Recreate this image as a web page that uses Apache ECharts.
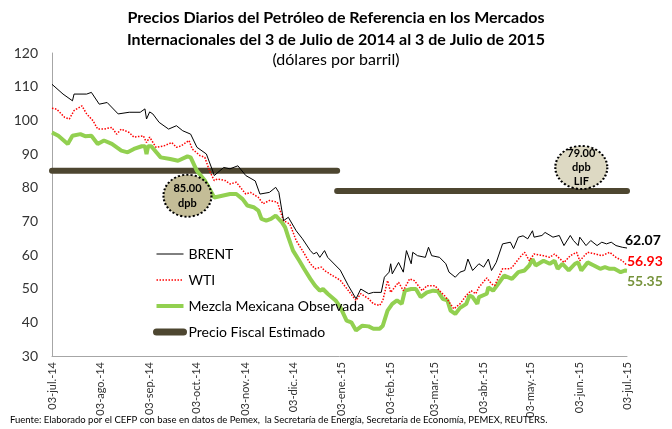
<!DOCTYPE html>
<html>
<head>
<meta charset="utf-8">
<script src="https://cdn.jsdelivr.net/npm/echarts@6/dist/echarts.min.js"></script>
<style>
  html, body { margin: 0; padding: 0; background: #fff; }
  #chart { width: 672px; height: 429px; }
</style>
</head>
<body>
<div id="chart"></div>
<script>
// dias transcurridos desde el 03-jul-14
var monthDays = [0, 31, 62, 92, 123, 153, 184, 215, 243, 274, 304, 335, 365];
var monthLabels = ["03-jul.-14", "03-ago.-14", "03-sep.-14", "03-oct.-14", "03-nov.-14", "03-dic.-14",
  "03-ene.-15", "03-feb.-15", "03-mar.-15", "03-abr.-15", "03-may.-15", "03-jun.-15", "03-jul.-15"];

var brentDays = [0, 7, 13, 14, 22, 25, 30, 35, 42, 49, 56, 59, 60, 62, 64, 68, 74, 79, 83, 88, 92, 98, 102, 103,
  109, 113, 118, 123, 129, 132, 138, 142, 144, 147, 150, 155, 159, 164, 166, 168, 170, 173, 175, 183, 188, 193,
  196, 201, 204, 209, 211, 214, 215, 216, 220, 223, 225, 228, 229, 232, 237, 239, 241, 246, 250, 252, 256, 259,
  262, 264, 267, 271, 274, 277, 279, 282, 286, 291, 293, 296, 299, 302, 305, 306, 311, 313, 318, 322, 325, 329,
  331, 334, 335, 339, 342, 346, 349, 352, 355, 358, 362, 365];
var brentValues = [110.7, 107.8, 105.8, 107.8, 107.8, 108.3, 104.8, 105.3, 101.9, 102.4, 102.4, 103.4, 100.4, 102.5,
  101.9, 99.4, 97.4, 98.4, 96.9, 95.9, 92, 90, 85, 83.6, 86, 85.6, 86.5, 83.6, 82, 78.1, 78.6, 80.1, 78.6, 70.2,
  71.2, 67.2, 64.8, 61.3, 60.3, 60.8, 59.3, 61.3, 59.3, 55.5, 51, 47, 49.9, 48.5, 48.9, 48.9, 53.4, 54.9, 57.4,
  54.4, 57.8, 54.9, 61.3, 57.4, 60.8, 59.8, 59.3, 62.3, 59.8, 59.3, 57.4, 54.9, 53.4, 54.9, 55.4, 58.8, 55.4,
  57.4, 56.4, 58.8, 55.4, 57.8, 63.3, 63.8, 61.9, 65.3, 65.7, 64.8, 67.2, 65.3, 65.8, 66.7, 65.3, 65.8, 62.8,
  65.8, 64.3, 62.8, 65.3, 62.8, 64.3, 62.8, 63.8, 63.3, 63.8, 62.8, 62.3, 62.07];

var wtiDays = [0, 3, 8, 11, 14, 19, 22, 26, 29, 33, 38, 41, 44, 49, 52, 58, 60, 62, 66, 71, 76, 79, 82, 85, 87, 89,
  94, 97, 100, 103, 105, 110, 113, 117, 123, 126, 131, 134, 138, 143, 147, 151, 155, 159, 164, 167, 171, 173,
  178, 183, 189, 193, 196, 201, 204, 208, 210, 213, 215, 220, 223, 227, 230, 235, 238, 243, 246, 250, 255, 259,
  263, 266, 269, 271, 276, 279, 281, 286, 291, 293, 297, 300, 303, 306, 312, 316, 319, 325, 329, 333, 335, 340,
  345, 349, 354, 358, 362, 365];
var wtiValues = [103.6, 103.3, 100.9, 100.4, 102.9, 104.3, 101.9, 99.9, 97.4, 97.4, 97.9, 95.9, 97.4, 96.4, 95,
  95.4, 93.4, 95, 92, 92.4, 93.4, 92, 92.4, 93.4, 94, 91.5, 89.5, 89, 85, 82.1, 82.6, 82.1, 81.1, 81.6, 78.1,
  78.6, 77.1, 75.2, 76.2, 75.7, 70.2, 69.2, 64.3, 61.3, 57.4, 55.9, 56.4, 55.4, 53.9, 52.5, 48.9, 46.5, 48.5, 47,
  45.5, 45, 46.5, 52.4, 48.9, 51.9, 49.4, 52.9, 52.4, 49.4, 50.9, 50.9, 49.4, 47.5, 44, 45.5, 48, 49.4, 48.5,
  50.4, 53.2, 51.4, 50.9, 55.9, 55.9, 56.9, 59.3, 60.8, 58.3, 60.3, 59.8, 59.3, 60.3, 57.8, 59.8, 60.8, 58.3,
  60.8, 60.3, 59.8, 60.8, 59.3, 58.3, 56.93];

var mezclaDays = [0, 4, 10, 13, 18, 21, 25, 29, 33, 38, 44, 48, 52, 57, 59, 60, 61, 63, 69, 75, 80, 86, 88, 92, 97,
  103, 108, 113, 117, 121, 124, 128, 131, 133, 136, 139, 142, 146, 148, 150, 153, 157, 160, 164, 167, 170, 172,
  175, 180, 183, 187, 190, 193, 197, 201, 204, 208, 210, 213, 216, 219, 222, 224, 228, 231, 234, 238, 242, 245,
  248, 251, 253, 256, 259, 263, 265, 267, 270, 271, 276, 277, 280, 284, 287, 292, 296, 300, 303, 305, 307, 312,
  316, 319, 321, 324, 328, 332, 334, 336, 340, 344, 348, 351, 354, 357, 361, 364, 365];
var mezclaValues = [96.4, 95.4, 93, 95.4, 95.9, 95.3, 95.4, 93, 94, 93, 91, 90.5, 91.5, 92.3, 92.3, 90, 92.3, 92.3,
  89, 88.5, 88, 89.3, 89, 85, 82.1, 77.1, 77.6, 78.1, 78.1, 76.6, 74.7, 74.2, 73.2, 70.7, 70.2, 70.7, 71.7, 69.7,
  68.2, 65.3, 61.3, 58.3, 55.9, 52.9, 50.9, 49.4, 49.9, 48.5, 46.5, 44.5, 40.5, 40, 37.6, 39, 38.8, 38.1, 38.1,
  39, 43.5, 45.5, 46.5, 45.5, 49.4, 49.9, 49.9, 47.5, 48.9, 49.4, 49.2, 47, 46.5, 43.5, 42.5, 44.3, 45.5, 48,
  47.5, 45.5, 47.5, 48.5, 50.4, 49.4, 51.9, 53.9, 52.9, 54.9, 55.4, 56.9, 58.8, 56.9, 58.3, 57.4, 58.3, 55.9,
  57.4, 55.4, 57.4, 57.8, 55.4, 57.8, 56.9, 55.9, 56.4, 55.9, 55.9, 54.9, 55.4, 55.35];

// precio fiscal estimado: 85 dpb hasta fin de 2014, 79 dpb (LIF) en 2015
var fiscal2014 = [[0, 85], [181, 85]];
var fiscal2015 = [[181, 79], [365, 79]];

function pairs(days, values) {
  return days.map(function (d, i) {
    return [d, values[i]];
  });
}

var font = "Lato, 'Liberation Sans', sans-serif";
var chart = echarts.init(document.getElementById("chart"), null, { renderer: "canvas" });

chart.setOption({
  animation: false,
  textStyle: { fontFamily: font },
  title: {
    text: "Precios Diarios del Petróleo de Referencia en los Mercados\nInternacionales del 3 de Julio de 2014 al 3 de Julio de 2015",
    subtext: "(dólares por barril)",
    left: "center",
    top: 2,
    itemGap: 1,
    textStyle: { fontFamily: font, fontSize: 16, fontWeight: "bold", color: "#000", lineHeight: 22 },
    subtextStyle: { fontFamily: font, fontSize: 16, color: "#000" },
  },
  legend: {
    orient: "vertical",
    left: 148,
    top: 242,
    itemGap: 12,
    itemWidth: 27,
    itemHeight: 14,
    itemStyle: { opacity: 0 },
    textStyle: { fontFamily: font, fontSize: 14, color: "#000" },
    data: [
      { name: "BRENT", lineStyle: { width: 1 } },
      { name: "WTI", lineStyle: { width: 1.5 } },
      { name: "Mezcla Mexicana Observada", lineStyle: { width: 4 } },
      { name: "Precio Fiscal Estimado", lineStyle: { width: 7, cap: "round" } },
    ],
  },
  grid: {
    left: 52,
    right: 45,
    top: 53,
    bottom: 73,
  },
  xAxis: {
    type: "value",
    min: 0,
    max: 365,
    axisLine: { lineStyle: { color: "#a6a6a6" } },
    axisTick: { show: false },
    splitLine: { show: false },
    axisLabel: {
      customValues: monthDays,
      rotate: 90,
      margin: 6,
      fontSize: 11,
      color: "#333",
      formatter: function (value) {
        var i = monthDays.indexOf(value);
        return i >= 0 ? monthLabels[i] : "";
      },
    },
  },
  yAxis: {
    type: "value",
    min: 30,
    max: 120,
    interval: 10,
    axisLine: { show: true, lineStyle: { color: "#a6a6a6" } },
    axisTick: { show: false },
    splitLine: { show: false },
    axisLabel: { fontSize: 14, color: "#333", margin: 14 },
  },
  series: [
    {
      name: "Precio Fiscal Estimado",
      type: "line",
      data: fiscal2014,
      showSymbol: false,
      symbol: "none",
      color: "#4d4630",
      lineStyle: { width: 6, color: "#4d4630", cap: "round" },
      markPoint: {
        symbol: "circle",
        symbolSize: [48, 42],
        itemStyle: { color: "#c4bd97", borderColor: "#000", borderWidth: 2, borderType: "dotted" },
        label: {
          show: true,
          formatter: "85.00\ndpb",
          fontFamily: font,
          fontSize: 11,
          fontWeight: "bold",
          color: "#000",
          lineHeight: 15,
        },
        data: [{ coord: [86, 77.6] }],
      },
    },
    {
      name: "Precio Fiscal Estimado",
      type: "line",
      data: fiscal2015,
      showSymbol: false,
      symbol: "none",
      color: "#4d4630",
      lineStyle: { width: 6, color: "#4d4630", cap: "round" },
      markPoint: {
        symbol: "circle",
        symbolSize: [52, 43],
        itemStyle: { color: "#ddd9c3", borderColor: "#000", borderWidth: 2, borderType: "dotted" },
        label: {
          show: true,
          formatter: "79.00\ndpb\nLIF",
          fontFamily: font,
          fontSize: 11,
          fontWeight: "bold",
          color: "#000",
          lineHeight: 14,
        },
        data: [{ coord: [336, 86] }],
      },
    },
    {
      name: "Mezcla Mexicana Observada",
      type: "line",
      data: pairs(mezclaDays, mezclaValues),
      showSymbol: false,
      symbol: "none",
      color: "#92d050",
      lineStyle: { width: 4, color: "#92d050" },
      endLabel: {
        show: true,
        distance: 0,
        offset: [0, 11],
        formatter: function (p) { return p.value[1].toFixed(2); },
        fontFamily: font,
        fontSize: 14,
        fontWeight: "bold",
        color: "#77933c",
      },
    },
    {
      name: "WTI",
      type: "line",
      data: pairs(wtiDays, wtiValues),
      showSymbol: false,
      symbol: "none",
      color: "#ff0000",
      lineStyle: { width: 1.5, type: "dotted", color: "#ff0000" },
      endLabel: {
        show: true,
        distance: 0,
        offset: [0, -4],
        formatter: function (p) { return p.value[1].toFixed(2); },
        fontFamily: font,
        fontSize: 14,
        fontWeight: "bold",
        color: "#ff0000",
      },
    },
    {
      name: "BRENT",
      type: "line",
      data: pairs(brentDays, brentValues),
      showSymbol: false,
      symbol: "none",
      color: "#000",
      lineStyle: { width: 1, color: "#000" },
      endLabel: {
        show: true,
        distance: 0,
        offset: [-2, -8],
        formatter: function (p) { return p.value[1].toFixed(2); },
        fontFamily: font,
        fontSize: 14,
        fontWeight: "bold",
        color: "#000",
      },
    },
  ],
  graphic: [
    {
      type: "text",
      left: 10,
      top: 415,
      style: {
        text: "Fuente: Elaborado por el CEFP con base en datos de Pemex,  la Secretaría de Energía, Secretaría de Economía, PEMEX, REUTERS.",
        fontFamily: font,
        fontSize: 9.5,
        fill: "#000",
      },
    },
  ],
});
</script>
</body>
</html>
